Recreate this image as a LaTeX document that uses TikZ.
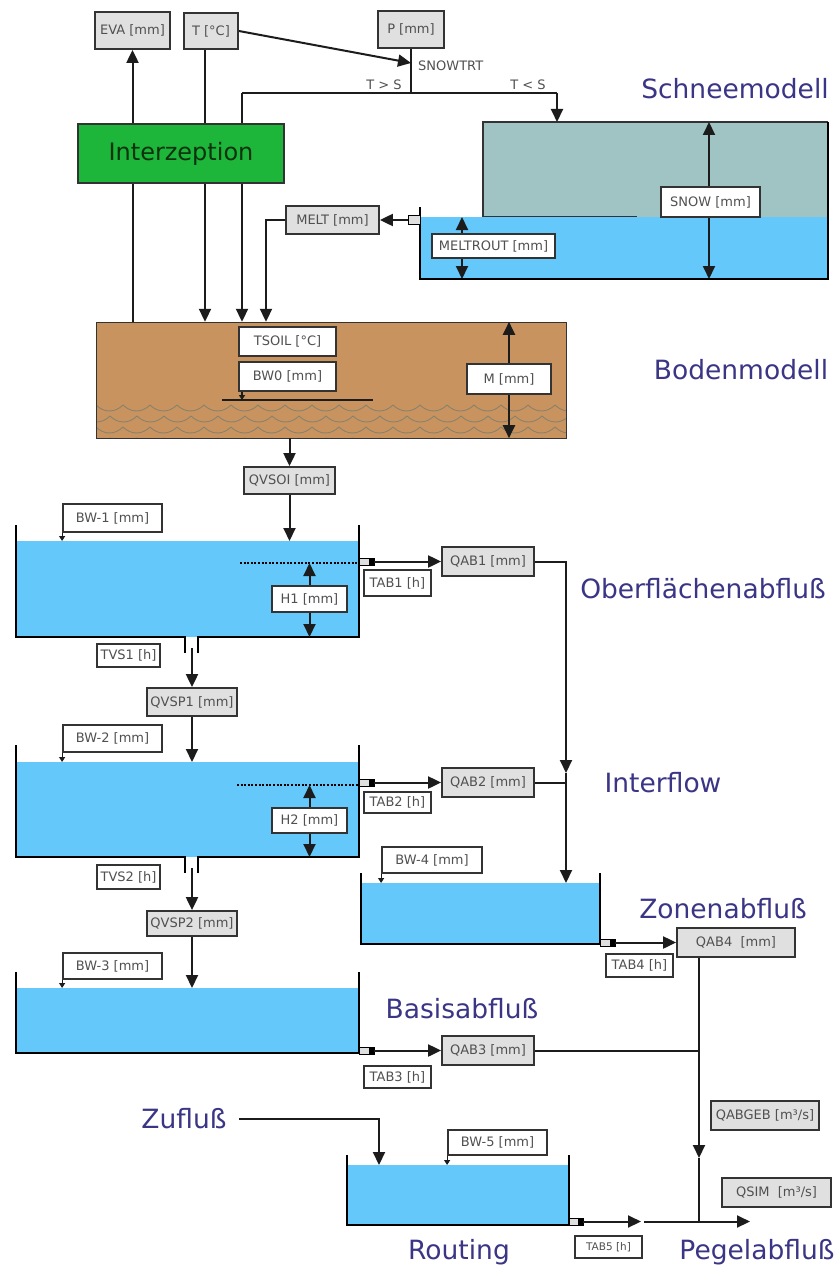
\documentclass[tikz,border=0pt]{standalone}
\usepackage{fontspec}
\setmainfont{DejaVu Sans}
\usetikzlibrary{arrows.meta,calc}
\definecolor{waterc}{HTML}{64C8FA}
\definecolor{snowc}{HTML}{A0C4C4}
\definecolor{soilc}{HTML}{C9935F}
\definecolor{greenc}{HTML}{1DB53A}
\definecolor{gfill}{HTML}{E0E0E0}
\definecolor{boxc}{HTML}{333333}
\definecolor{txtc}{HTML}{505050}
\definecolor{titc}{HTML}{3A3585}
\definecolor{linec}{HTML}{1C1C1C}
\definecolor{wavec}{HTML}{86826E}
\pgfdeclarelayer{fills}
\pgfdeclarelayer{lines}
\pgfsetlayers{fills,lines,main}
\tikzset{
  conn/.style={line width=2pt, draw=linec},
  arr/.style={conn, -{Triangle[length=13pt,width=12pt]}},
  darr/.style={conn, {Triangle[length=13pt,width=12pt]}-{Triangle[length=13pt,width=12pt]}},
  lab/.style={draw=boxc, line width=1.8pt, inner sep=0pt, font=\fontsize{13}{15}\selectfont, text=txtc},
  gbox/.style={lab, fill=gfill},
  wbox/.style={lab, fill=white},
  smallbox/.style={wbox, font=\fontsize{10.5}{12}\selectfont},
  intz/.style={draw=boxc, line width=1.4pt, fill=greenc, font=\fontsize{24}{28}\selectfont, text={rgb,255:red,12;green,50;blue,14}},
  title/.style={font=\fontsize{26.5}{31}\selectfont, text=titc, inner sep=0pt},
  wall/.style={line width=2.6pt, draw=black},
  ptr/.style={line width=1.1pt, draw=linec, -{Triangle[length=5pt,width=6pt]}},
  smalltxt/.style={font=\fontsize{13}{15}\selectfont, text=txtc, inner sep=0pt},
  stub/.style={fill=gray!25, draw=black, line width=1pt},
  wave/.style={draw=wavec, line width=0.9pt},
}
\newcommand\bx[7]{\node[#2, minimum width={(#5-#3)*1pt}, minimum height={(#6-#4)*1pt}] (#1) at ({(#3+#5)/2},{(#4+#6)/2}) {#7};}
\begin{document}
\begin{tikzpicture}[x=1pt,y=-1pt]
\useasboundingbox (0,0) rectangle (838,1271);

% ---------- fills ----------
\begin{pgfonlayer}{fills}
\fill[white] (0,0) rectangle (838,1271);
\fill[snowc] (483,122) rectangle (828,217);
\fill[waterc] (420,217) rectangle (828,279);
\node[fill=soilc, inner sep=0pt, minimum width=470pt, minimum height=116pt] (soil) at (331,380) {};
\begin{scope}
\clip (96,400) rectangle (566,438);
\foreach \yy/\off in {405/0, 416/13, 427/0, 438/13} {
  \foreach \i in {0,...,18} {
    \pgfmathsetmacro\xa{96-\off+27*\i}
    \pgfmathsetmacro\xb{\xa+8}
    \pgfmathsetmacro\xc{\xa+19}
    \pgfmathsetmacro\xd{\xa+27}
    \pgfmathsetmacro\yb{\yy+8}
    \draw[wave] (\xa,\yy) .. controls (\xb,\yb) and (\xc,\yb) .. (\xd,\yy);
  }
}
\end{scope}
\draw[boxc, line width=1pt] (96,322) rectangle (566,438);
\fill[waterc] (16,541) rectangle (359,637);
\fill[waterc] (16,762) rectangle (359,857);
\fill[waterc] (16,988) rectangle (359,1053);
\fill[waterc] (361,883) rectangle (600,944);
\fill[waterc] (347,1165) rectangle (569,1225);
\end{pgfonlayer}

% ---------- nodes ----------
\bx{eva}{gbox}{95}{12}{170}{49}{EVA [mm]}
\bx{tt}{gbox}{184}{13}{238}{49}{T [°C]}
\bx{pp}{gbox}{378}{11}{444}{48}{P [mm]}
\bx{interz}{intz}{78}{124}{284}{183}{Interzeption}
\bx{melt}{gbox}{286}{206}{379}{234}{MELT [mm]}
\bx{snow}{wbox}{661}{187}{760}{217}{SNOW [mm]}
\bx{meltrout}{wbox}{432}{234}{555}{258}{MELTROUT [mm]}
\bx{tsoil}{wbox}{239}{327}{336}{356}{TSOIL [°C]}
\bx{bw0}{wbox}{239}{362}{336}{391}{BW0 [mm]}
\bx{mm}{wbox}{467}{364}{551}{394}{M [mm]}
\bx{qvsoi}{gbox}{244}{467}{335}{494}{QVSOI [mm]}
\bx{bw1}{wbox}{63}{504}{162}{532}{BW-1 [mm]}
\bx{h1}{wbox}{272}{586}{347}{612}{H1 [mm]}
\bx{tab1}{wbox}{364}{570}{431}{596}{TAB1 [h]}
\bx{qab1}{gbox}{442}{547}{534}{576}{QAB1 [mm]}
\bx{tvs1}{wbox}{97}{644}{160}{667}{TVS1 [h]}
\bx{qvsp1}{gbox}{147}{688}{237}{716}{QVSP1 [mm]}
\bx{bw2}{wbox}{63}{725}{162}{752}{BW-2 [mm]}
\bx{h2}{wbox}{272}{808}{347}{833}{H2 [mm]}
\bx{tab2}{wbox}{364}{792}{431}{813}{TAB2 [h]}
\bx{qab2}{gbox}{442}{768}{534}{797}{QAB2 [mm]}
\bx{tvs2}{wbox}{97}{865}{160}{889}{TVS2 [h]}
\bx{qvsp2}{gbox}{147}{911}{237}{936}{QVSP2 [mm]}
\bx{bw3}{wbox}{63}{953}{162}{979}{BW-3 [mm]}
\bx{qab3}{gbox}{442}{1036}{534}{1065}{QAB3 [mm]}
\bx{tab3}{wbox}{364}{1066}{431}{1088}{TAB3 [h]}
\bx{bw4}{wbox}{382}{847}{482}{873}{BW-4 [mm]}
\bx{qab4}{gbox}{677}{928}{795}{957}{QAB4\ \ [mm]}
\bx{tab4}{wbox}{606}{954}{673}{977}{TAB4 [h]}
\bx{qabgeb}{gbox}{711}{1101}{819}{1130}{QABGEB [m³/s]}
\bx{qsim}{gbox}{722}{1178}{831}{1207}{QSIM\ \ [m³/s]}
\bx{bw5}{wbox}{448}{1130}{547}{1155}{BW-5 [mm]}
\bx{tab5}{smallbox}{575}{1236}{642}{1258}{TAB5 [h]}

\node[smalltxt, anchor=west] (snowtrt) at (418,66) {SNOWTRT};
\node[smalltxt] (tgs) at (384,85) {T > S};
\node[smalltxt] (tls) at (528,85) {T < S};

\node[title] (tschnee) at (735,89) {Schneemodell};
\node[title] (tboden) at (741,370) {Bodenmodell};
\node[title] (tober) at (703,589) {Oberflächenabfluß};
\node[title] (tinter) at (663,783) {Interflow};
\node[title] (tzonen) at (723,909) {Zonenabfluß};
\node[title] (tbasis) at (462,1009) {Basisabfluß};
\node[title] (tzu) at (184,1119) {Zufluß};
\node[title] (trout) at (459,1252) {Routing};
\node[title] (tpegel) at (757,1252) {Pegelabfluß};

% ---------- coordinates ----------
\coordinate (snowpt) at (411,63);
\coordinate (pj) at (411,93);
\coordinate (jl) at (242,93);
\coordinate (jr) at (557,93);
\coordinate (snowtop) at (557,122);
\coordinate (tx) at (205,0);
\coordinate (mx) at (266,0);
\coordinate (snowout) at (408,220);
\coordinate (bw0p) at (242,400);
\coordinate (w1top) at (0,541);
\coordinate (w2top) at (0,762);
\coordinate (w3top) at (0,988);
\coordinate (w4top) at (0,883);
\coordinate (w5top) at (0,1165);
\coordinate (d1) at (0,563);
\coordinate (b1) at (0,637);
\coordinate (d2) at (0,785);
\coordinate (b2) at (0,857);
\coordinate (o1) at (192,648);
\coordinate (o2) at (192,868);
\coordinate (s1) at (374,0);
\coordinate (qx1) at (566,773);
\coordinate (q4in) at (566,883);
\coordinate (s4) at (615,0);
\coordinate (jx) at (699,1050.5);
\coordinate (jxa) at (699,1158);
\coordinate (jxb) at (699,1221.5);
\coordinate (r1) at (583,1221.5);
\coordinate (r2) at (641,1221.5);
\coordinate (r3) at (644,1221.5);
\coordinate (r4) at (750,1221.5);
\coordinate (zin) at (379,1165);

% ---------- lines ----------
\begin{pgfonlayer}{lines}
% top
\draw[arr] (tt.east) -- (snowpt);
\draw[conn] (pp.south) -- (pj);
\draw[conn] (jl) -- (jr);
\draw[arr] (jr) -- (snowtop);
\draw[arr] (jl) -- (jl |- soil.north);
\draw[arr] (eva.south |- soil.north) -- (eva.south);
\draw[arr] (tt.south -| tx) -- (tx |- soil.north);
\draw[arr] (melt.west) -| (mx |- soil.north);
\draw[arr] (snowout) -- (melt.east);
% snow tank
\draw[line width=1.2pt, draw=boxc] (483,217) -- (483,122) -- (828,122);
\draw[line width=1pt, draw=boxc] (483,216.5) -- (637,216.5);
\draw[wall] (420,207) -- (420,279) -- (828,279) -- (828,122);
\filldraw[stub] (408,215) rectangle (420,224);
\draw[darr] (709,122) -- (709,279);
\draw[darr] (462,217) -- (462,279);
% soil
\draw[line width=1.2pt, draw=linec] (222,400) -- (373,400);
\draw[ptr] (bw0p |- bw0.south) -- (bw0p);
\draw[darr] (mm.north |- soil.north) -- (mm.south |- soil.south);
\draw[arr] (qvsoi.north |- soil.south) -- (qvsoi.north);
\draw[arr] (qvsoi.south) -- (qvsoi.south |- w1top);
% tank 1
\draw[wall] (16,525) -- (16,637) -- (185,637) -- (185,653);
\draw[wall] (198,653) -- (198,637) -- (359,637) -- (359,525);
\draw[line width=1.8pt, dash pattern=on 2pt off 1.6pt] (240,563) -- (359,563);
\draw[darr] (h1.north |- d1) -- (h1.south |- b1);
\filldraw[stub] (359,558) rectangle (374,565);
\fill[black] (369,558) rectangle (374,565);
\draw[arr] (qab1.west -| s1) -- (qab1.west);
\draw[arr] (qab1.east) -| (qx1);
\draw[arr] (qx1) -- (q4in);
\draw[ptr] (bw1.south west) -- (bw1.south west |- w1top);
\draw[arr] (o1) -- (qvsp1.north);
\draw[arr] (qvsp1.south) -- (qvsp1.south |- w2top);
% tank 2
\draw[wall] (16,745) -- (16,857) -- (185,857) -- (185,873);
\draw[wall] (198,873) -- (198,857) -- (359,857) -- (359,745);
\draw[line width=1.8pt, dash pattern=on 2pt off 1.6pt] (237,785) -- (359,785);
\draw[darr] (h2.north |- d2) -- (h2.south |- b2);
\filldraw[stub] (359,779) rectangle (374,786);
\fill[black] (369,779) rectangle (374,786);
\draw[arr] (qab2.west -| s1) -- (qab2.west);
\draw[conn] (qab2.east) -- (qab2.east -| qx1);
\draw[ptr] (bw2.south west) -- (bw2.south west |- w2top);
\draw[arr] (o2) -- (qvsp2.north);
\draw[arr] (qvsp2.south) -- (qvsp2.south |- w3top);
% tank 3
\draw[wall] (16,972) -- (16,1053) -- (359,1053) -- (359,972);
\filldraw[stub] (359,1047) rectangle (374,1054);
\fill[black] (369,1047) rectangle (374,1054);
\draw[arr] (qab3.west -| s1) -- (qab3.west);
\draw[conn] (qab3.east) -- (jx);
\draw[ptr] (bw3.south west) -- (bw3.south west |- w3top);
% tank 4
\draw[wall] (361,873) -- (361,944) -- (600,944) -- (600,873);
\filldraw[stub] (600,939) rectangle (615,946);
\fill[black] (610,939) rectangle (615,946);
\draw[arr] (qab4.west -| s4) -- (qab4.west);
\draw[ptr] (bw4.south west) -- (bw4.south west |- w4top);
\draw[arr] (qab4.south -| jx) -- (jxa);
\draw[conn] (jxa) -- (jxb);
% routing
\draw[wall] (347,1155) -- (347,1225) -- (569,1225) -- (569,1155);
\filldraw[stub] (569,1218) rectangle (583,1225);
\fill[black] (578,1218) rectangle (583,1225);
\draw[ptr] (bw5.south west) -- (bw5.south west |- w5top);
\draw[arr] ([xshift=12pt]tzu.east) -| (zin);
\draw[arr] (r1) -- (r2);
\draw[arr] (r3) -- (r4);
\end{pgfonlayer}
\end{tikzpicture}
\end{document}
